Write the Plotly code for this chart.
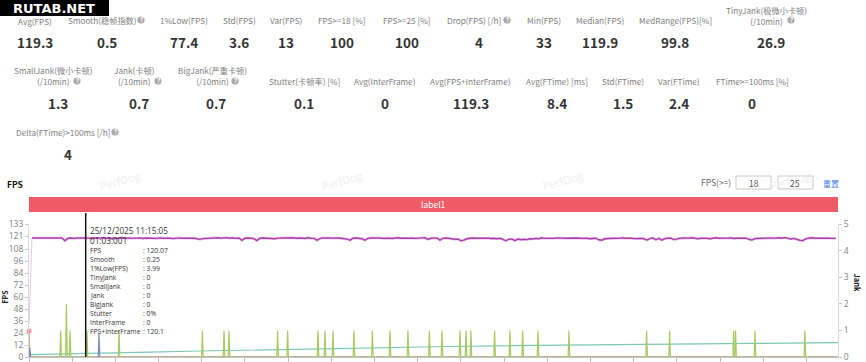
import plotly.graph_objects as go

# ---------- data ----------
row_labels = [
    "Avg(FPS)", "Smooth(稳帧指数)", "1%Low(FPS)", "Std(FPS)", "Var(FPS)", "FPS>=18 [%]", "FPS>=25 [%]",
    "Drop(FPS) [/h]", "Min(FPS)", "Median(FPS)", "MedRange(FPS)[%]", "TinyJank(极微小卡顿)<br>(/10min)",
    "SmallJank(微小卡顿)<br>(/10min)", "Jank(卡顿)<br>(/10min)", "BigJank(严重卡顿)<br>(/10min)",
    "Stutter(卡顿率) [%]", "Avg(InterFrame)", "Avg(FPS+InterFrame)", "Avg(FTime) [ms]", "Std(FTime)",
    "Var(FTime)", "FTime>=100ms [%]", "Delta(FTime)>100ms [/h]",
]
row_values = ["119.3", "0.5", "77.4", "3.6", "13", "100", "100", "4", "33", "119.9", "99.8", "26.9",
              "1.3", "0.7", "0.7", "0.1", "0", "119.3", "8.4", "1.5", "2.4", "0", "4"]

fps = [
    33, 119, 119, 118.8, 119, 118.6, 119, 118.9, 118.5, 119, 118.7, 119, 116.2, 118.8, 119, 118.6, 119, 119.2, 118.7, 119,
    118.9, 118.4, 119, 119.2, 118.8, 119, 118.6, 119.1, 118.9, 118.5, 119, 119.2, 118.8, 119, 118.7, 119.1, 118.9, 119, 118.5, 119,
    119.2, 118.8, 118.6, 119, 119.1, 118.7, 119, 118.9, 118.4, 119, 119.1, 118.8, 119, 118.6, 119, 118.9, 118.2, 117.6, 118.4, 118.7,
    119, 118.6, 118.9, 119.2, 118.7, 119, 119.4, 118.8, 119.2, 118.6, 119, 116.6, 118.7, 119, 118.9, 118.4, 116.4, 118.7, 119, 118.8,
    119, 118.5, 118.2, 118.9, 119, 118.6, 119, 118.8, 119.2, 118.7, 118.9, 119, 118.5, 119.3, 118.8, 118.6, 116.8, 118.4, 119, 118.7,
    119, 118.9, 118.6, 119, 118.8, 118.5, 117.9, 116.8, 118.7, 119, 118.8, 118.3, 116.9, 118.6, 119, 119.2, 118.8, 119, 118.6, 119.1,
    118.9, 118.5, 119, 119.2, 118.8, 119, 118.7, 119, 118.9, 118.6, 119, 118.8, 119.4, 117.6, 118.7, 118.9, 119, 116.9, 118.6, 119,
    118.8, 118.3, 117.6, 118, 116.2, 116.8, 118.2, 118.7, 119, 118.8, 119, 118.6, 119, 118.9, 118.5, 118.8, 118.2, 118.7, 117.6, 116.2,
    117.8, 118, 116.4, 118, 117.2, 117.8, 117.4, 118.2, 118, 118.6, 118.3, 119.2, 118.6, 118.9, 118.5, 118.8, 119, 118.6, 118.9, 118.7,
    118.9, 118.4, 118.8, 119, 118.6, 118.9, 118.7, 118.2, 118.6, 118.8, 117.2, 116.8, 118.2, 118.6, 119, 118.8, 118.6, 118.9, 119.1, 118.7,
    119, 118.8, 118.4, 118.7, 118.6, 118.2, 116.9, 118.4, 119, 117.2, 118.6, 116.8, 118.4, 118.7, 118.9, 117.4, 118.2, 118.6, 119, 118.7,
    118.9, 119.3, 118.6, 118.2, 118.8, 119, 118.7, 118.3, 118.8, 119.2, 118.7, 119, 118.6, 118.9, 119.1, 118.5, 118.8, 119, 118.6, 118.9,
    117.7, 116.9, 118.4, 118.7, 118.9, 118.6, 118.9, 119, 118.7, 118.9, 119.2, 118.8, 119.4, 118.6, 118, 118.6, 117.6, 116.8, 116.4, 118.2,
    118.9, 119.2, 118.7, 118.9, 119, 118.6, 118.9, 118.7, 118.8, 118.6,
]
fps_sample_step = 3.333

tiny_jank_times = [35.2, 41.6, 45.6, 64.4, 100, 192.7, 216.7, 222.2, 276.3, 287.4, 321.1, 328.9, 337.8, 361.1, 381.6,
                   401.1, 421.1, 444.9, 458.9, 478.9, 485.6, 491.1, 517.4, 534.4, 548.6, 565.6, 600, 686.3, 711.9,
                   783, 785.2, 806.7, 862.2]
tiny_jank_heights = [1, 2, 1, 1, 1, 1, 1, 1, 1, 1, 1, 1, 1, 1, 1, 1, 1, 1, 1, 1, 1, 1, 1, 1, 1, 1, 1, 1, 1, 1, 1, 1, 1]
small_jank_times = [1, 77.8]
small_jank_heights = [0.35, 0.9]
trend_times = [0, 34, 79, 134, 190, 245, 290, 357, 412, 468, 523, 608, 690, 745, 801, 857, 899]
trend_values = [2.3, 2.8, 3.6, 4.8, 6, 7, 8, 9, 9.8, 10.5, 11.2, 11.7, 12.8, 13.2, 13.6, 14.1, 14.3]
threshold_times = [0, 0.4, 900]
threshold_values = [26, 0, 0]

left_ticks = [0, 12, 24, 36, 48, 60, 72, 84, 96, 108, 121, 133]
right_ticks = [0, 1, 2, 3, 4, 5]
x_tick_step = 48
cursor_time = 63.0

tip_names = ["FPS", "Smooth", "1%Low(FPS)", "TinyJank", "SmallJank", "Jank", "BigJank", "Stutter", "InterFrame", "FPS+InterFrame"]
tip_values = ["120.07", "0.25", "3.99", "0", "0", "0", "0", "0%", "0", "120.1"]

# ---------- layout ----------
W, H = 866, 362
L, R, T, B = 29, 28, 224, 5
CJK = "Noto Sans CJK SC"
def px(x): return (x - L) / (W - L - R)
def py(y): return 1 - (y - T) / (H - T - B)

def spikes(times, heights, half=0.9):
    xs, ys = [], []
    for t, h in zip(times, heights):
        xs += [t - half, t, t + half, None]
        ys += [0, h, 0, None]
    return xs, ys

fig = go.Figure()
times = [i * fps_sample_step for i in range(len(fps))]
fig.add_trace(go.Scatter(x=times[:2], y=fps[:2], mode="lines", line=dict(color="#EBC3EB", width=1), hoverinfo="skip"))
fig.add_trace(go.Scatter(x=times[1:], y=fps[1:], mode="lines", line=dict(color="#EBC3EB", width=2.6), hoverinfo="skip"))
fig.add_trace(go.Scatter(x=times[1:], y=fps[1:], mode="lines", line=dict(color="#AE3CB0", width=1.4), hoverinfo="skip"))
fig.add_trace(go.Scatter(x=trend_times, y=trend_values, mode="lines", line=dict(color="#7CC8B4", width=1.2), hoverinfo="skip"))
fig.add_trace(go.Scatter(x=threshold_times, y=threshold_values, mode="lines", line=dict(color="#D9A27A", width=1.5), hoverinfo="skip"))
xs, ys = spikes(tiny_jank_times, tiny_jank_heights)
fig.add_trace(go.Scatter(x=[0, 900], y=[0, 0], yaxis="y2", mode="lines", line=dict(color="#B5B58A", width=1.6), hoverinfo="skip"))
fig.add_trace(go.Scatter(x=xs, y=ys, yaxis="y2", mode="lines", line=dict(color="#A6C964", width=1.2), hoverinfo="skip"))
xs, ys = spikes(small_jank_times, small_jank_heights)
fig.add_trace(go.Scatter(x=xs, y=ys, yaxis="y2", mode="lines", line=dict(color="#7D8FB8", width=1.2), hoverinfo="skip"))
fig.add_trace(go.Scatter(x=[threshold_times[0]], y=[threshold_values[0]], mode="markers",
                         marker=dict(color="#F28C96", size=5), cliponaxis=False, hoverinfo="skip"))

annotations, shapes = [], []
def text(x, y, s, size=9.5, color="#808080", bold=False, anchor="center", angle=0, family=CJK):
    annotations.append(dict(x=px(x), y=py(y), xref="paper", yref="paper", text=f"<b>{s}</b>" if bold else s,
                            showarrow=False, xanchor=anchor, yanchor="middle", textangle=angle, borderpad=0,
                            align="center", font=dict(size=size, color=color, family=family)))
def box(x0, y0, x1, y1, fill, line=None):
    shapes.append(dict(type="rect", xref="paper", yref="paper", x0=px(x0), x1=px(x1), y0=py(y0), y1=py(y1),
                       fillcolor=fill, line=dict(color=line or fill, width=1 if line else 0), layer="below"))
def help_icon(x, y):
    shapes.append(dict(type="circle", xref="paper", yref="paper", x0=px(x - 3.6), x1=px(x + 3.6), y0=py(y + 3.6), y1=py(y - 3.6),
                       fillcolor="#A9A9A9", line=dict(width=0), layer="above"))
    text(x, y, "?", size=6.5, color="#FFFFFF", bold=True, family="Roboto")

# watermarks
watermark_pos = [(120, 180), (342, 180), (563, 180), (790, 180)]
for x, y in watermark_pos:
    text(x, y, "PerfDog", size=11, color="#EEEEEE", angle=-15, family="Open Sans")

# metric rows
label_pos = [(35, 21), (102, 20), (184, 20), (239, 20), (286, 20), (342, 20), (407, 20), (474, 20), (544, 20), (600, 20), (675, 20), (766, 15),
             (53, 76), (134, 76), (212, 76), (304, 81), (385, 81), (470, 81), (557, 81), (623, 81), (679, 81), (752, 81), (63, 132)]
value_pos = [(35, 42), (107, 42), (184, 42), (239, 42), (286, 42), (342, 42), (407, 42), (479, 42), (544, 42), (600, 42), (675, 42), (771, 42),
             (58, 103), (139, 103), (216, 103), (304, 103), (385, 103), (471, 103), (557, 103), (623, 103), (679, 103), (752, 103), (68, 154)]
for s, (x, y) in zip(row_labels, label_pos):
    text(x, y, s, size=8.2)
for s, (x, y) in zip(row_values, value_pos):
    text(x, y, s, size=13.5, color="#333333", bold=True)
for x, y in [(141, 20), (507, 20), (791, 20), (77, 81), (158, 81), (235, 81), (115, 132)]:
    help_icon(x, y)

# logo
box(0, 0, 109, 16, "#000000")
text(54, 8, "RUTAB.NET", size=13, color="#FFFFFF", bold=True, family="DejaVu Sans")

# chart header
text(15, 184, "FPS", size=8.5, color="#111111", bold=True)
box(29, 197, 838, 212, "#EE5A66")
text(433, 204, "label1", size=8.5, color="#FFFFFF")
text(716, 182, "FPS(>=)", size=8.5, color="#666666")
box(736, 176, 771, 189, "#FFFFFF", "#C8C8C8")
box(778, 176, 813, 189, "#FFFFFF", "#C8C8C8")
text(754, 183, "18", size=8.5, color="#555555")
text(795, 183, "25", size=8.5, color="#555555")
text(831, 183, "重置", size=8, color="#4A7FE0")

# cursor + tooltip
shapes.append(dict(type="line", xref="x", yref="paper", x0=cursor_time, x1=cursor_time, y0=0, y1=py(213),
                   line=dict(color="#111111", width=1.5), layer="above"))
text(89, 230, "25/12/2025 11:15:05", size=8.2, color="#333333", anchor="left", family="Open Sans")
text(89, 240, "01:03:001", size=8.2, color="#333333", anchor="left", family="Open Sans")
tip_y = [250, 259, 268, 277, 286, 295, 304, 313, 322, 331]
for y, n, v in zip(tip_y, tip_names, tip_values):
    text(89, y, n, size=6.8, color="#333333", anchor="left", family="Open Sans")
    text(141.5, y, ": " + v, size=6.8, color="#333333", anchor="left", family="Open Sans")

# axis titles
text(4.5, 297, "FPS", size=7, color="#222222", bold=True, angle=-90)
text(857.5, 283, "Jank", size=7.5, color="#222222", bold=True, angle=90)

axis_font = dict(size=8.5, color="#808080", family="Open Sans")
fig.update_layout(
    width=W, height=H, margin=dict(l=L, r=R, t=T, b=B, pad=0), autosize=False,
    paper_bgcolor="#FFFFFF", plot_bgcolor="#FFFFFF", showlegend=False,
    xaxis=dict(range=[0, 899], tick0=0, dtick=x_tick_step, ticks="outside", ticklen=5, tickcolor="#BBBBBB", automargin=False,
               showticklabels=False, showgrid=False, zeroline=False, showline=True, linecolor="#C4C4C4", linewidth=1),
    yaxis=dict(range=[0, 133], tickmode="array", tickvals=left_ticks, ticks="outside", ticklen=3, tickcolor="#C4C4C4", automargin=False,
               ticklabeloverflow="allow", tickfont=axis_font, showgrid=False, zeroline=False, showline=True, linecolor="#DADADA", linewidth=1),
    yaxis2=dict(range=[0, 5], overlaying="y", side="right", tickmode="array", tickvals=right_ticks, ticks="outside", ticklen=3, automargin=False,
                ticklabeloverflow="allow", tickcolor="#C4C4C4", tickfont=axis_font, showgrid=False, zeroline=False, showline=True,
                linecolor="#DADADA", linewidth=1),
    annotations=annotations, shapes=shapes,
)
fig.write_html("out.html", config=dict(displayModeBar=False), default_width=W, default_height=H,
               post_script="document.body.style.margin='0';")
